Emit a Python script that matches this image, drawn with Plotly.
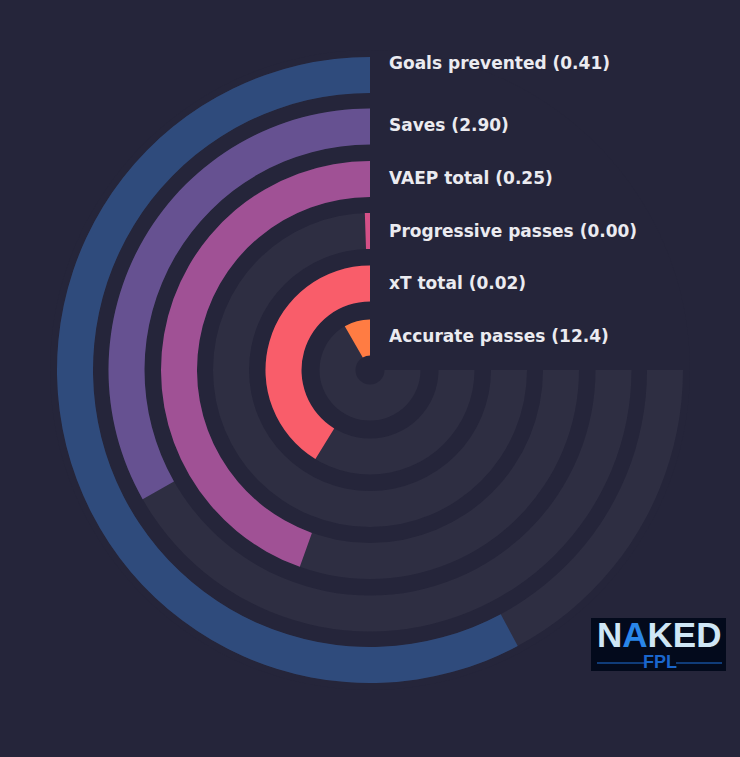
import plotly.graph_objects as go

# ---- data ----
metrics = ["Goals prevented", "Saves", "VAEP total", "Progressive passes", "xT total", "Accurate passes"]
values = ["0.41", "2.90", "0.25", "0.00", "0.02", "12.4"]
percentiles = [77.1, 44.3, 59.4, 0.7, 55.0, 11.1]   # share of the 270-degree track
colors = ["#2f4b7c", "#665191", "#a05195", "#d45087", "#f95d6a", "#ff7c43"]

# ---- styling / layout ----
W, H = 740, 757
CX, CY = 370, 370          # centre of the rings in pixels
R = 320                    # radial range (1 unit = 1 px)
BG = "#25253a"
TRACK = "#2e2e42"
TEXT = "#ebebf0"
FULL = 270.0
ring_centres = [295, 243.5, 191, 139, 86.5, 32.5]
ring_thick = 36
label_y = [63, 125, 177.5, 230.5, 283.5, 336]

bases = [c - ring_thick / 2 for c in ring_centres]
angles = [p / 100 * FULL for p in percentiles]

fig = go.Figure()
fig.add_trace(go.Barpolar(
    r=[ring_thick] * len(metrics), base=bases,
    theta=[FULL / 2] * len(metrics), width=[FULL] * len(metrics),
    marker=dict(color=TRACK, line=dict(width=0)),
    hoverinfo="skip", showlegend=False,
))
fig.add_trace(go.Barpolar(
    r=[ring_thick] * len(metrics), base=bases,
    theta=[a / 2 for a in angles], width=angles,
    marker=dict(color=colors, line=dict(width=0)),
    text=metrics, hoverinfo="text", showlegend=False,
))

annotations = []
for m, v, y in zip(metrics, values, label_y):
    annotations.append(dict(
        text=f"<b>{m} ({v})</b>", x=387 / W, y=1 - y / H, xref="paper", yref="paper",
        xanchor="left", yanchor="middle", showarrow=False,
        font=dict(family="DejaVu Sans", size=17, color=TEXT),
    ))

# logo
LX0, LX1, LY0, LY1 = 591, 726, 618, 671
shapes = [
    dict(type="rect", xref="paper", yref="paper",
         x0=LX0 / W, x1=LX1 / W, y0=1 - LY1 / H, y1=1 - LY0 / H,
         fillcolor="#030a1c", line=dict(width=0), layer="above"),
    dict(type="line", xref="paper", yref="paper",
         x0=597 / W, x1=645 / W, y0=1 - 663 / H, y1=1 - 663 / H,
         line=dict(color="#1f6fd6", width=1), layer="above"),
    dict(type="line", xref="paper", yref="paper",
         x0=676 / W, x1=722 / W, y0=1 - 663 / H, y1=1 - 663 / H,
         line=dict(color="#1f6fd6", width=1), layer="above"),
]
annotations.append(dict(
    text="<b>N<span style='color:#2a86e8'>A</span>KED</b>", x=659 / W, y=1 - 634 / H,
    xref="paper", yref="paper", xanchor="center", yanchor="middle", showarrow=False,
    font=dict(family="Liberation Sans", size=35, color="#cfe6f6"),
))
annotations.append(dict(
    text="<b>FPL</b>", x=660 / W, y=1 - 662 / H,
    xref="paper", yref="paper", xanchor="center", yanchor="middle", showarrow=False,
    font=dict(family="Liberation Sans", size=18, color="#1a66cc"),
))

fig.update_layout(
    width=W, height=H,
    margin=dict(l=0, r=0, t=0, b=0),
    paper_bgcolor=BG, plot_bgcolor=BG,
    polar=dict(
        domain=dict(x=[(CX - R) / W, (CX + R) / W], y=[(H - CY - R) / H, (H - CY + R) / H]),
        bgcolor=BG,
        radialaxis=dict(range=[0, R], visible=False, showgrid=False),
        angularaxis=dict(rotation=90, direction="counterclockwise", visible=False, showgrid=False),
        barmode="overlay",
    ),
    annotations=annotations,
    shapes=shapes,
    showlegend=False,
)

fig.write_html(
    "out.html",
    config={"displayModeBar": False},
    post_script="document.body.style.margin='0';document.body.style.padding='0';"
                "document.body.style.background='#25253a';",
)
